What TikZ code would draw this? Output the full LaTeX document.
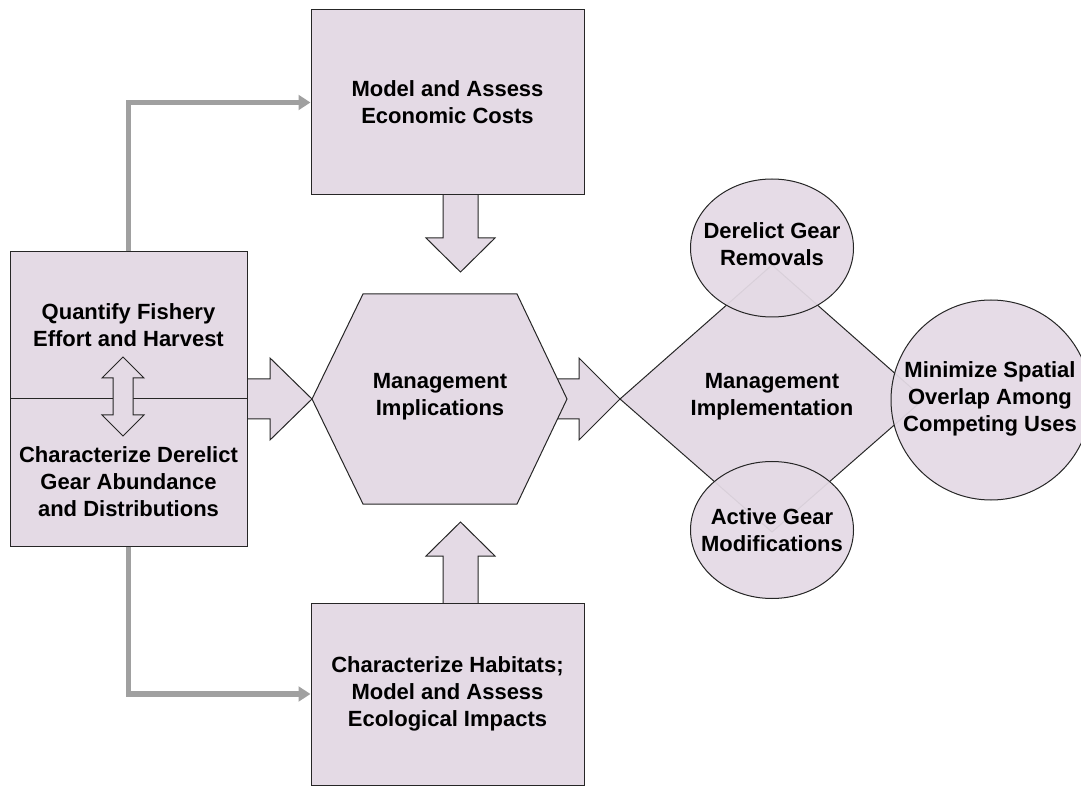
\documentclass[tikz,border=0pt]{standalone}
\usepackage{fontspec}
\setmainfont{Liberation Sans}
\usetikzlibrary{arrows.meta, calc, shapes.geometric}

\definecolor{lila}{RGB}{228,218,229}
\definecolor{sivaveza}{RGB}{160,160,160}

\begin{document}
\begin{tikzpicture}[x=0.75pt, y=-0.75pt,
    box/.style={draw=black!85, line width=0.75pt, fill=lila, inner sep=0pt},
    txt/.style={font=\fontsize{16.5}{20.25}\selectfont\bfseries, align=center},
    fat/.style={draw=black!85, line width=0.75pt, fill=lila, line join=miter},
    krug/.style={ellipse, draw=black!85, line width=0.75pt, fill=lila, fill opacity=0.94, text opacity=1, inner sep=0pt},
    veza/.style={draw=sivaveza, line width=4pt, -{Triangle[length=9pt, width=11pt]}}]
    % Granice slike
    \clip (0,0) rectangle (1081,787);

    % Debele strelice (crtaju se prije oblika)
    \def\shaftA{379} \def\shaftB{419}
    \def\headA{358} \def\headB{440}
    % lijevo -> sestokut
    \draw[fat] (240,\shaftA) -- (270,\shaftA) -- (270,\headA) -- (312,399)
        -- (270,\headB) -- (270,\shaftB) -- (240,\shaftB);
    % sestokut -> romb
    \draw[fat] (540,\shaftA) -- (579,\shaftA) -- (579,\headA) -- (620,399)
        -- (579,\headB) -- (579,\shaftB) -- (540,\shaftB);
    % gore -> sestokut
    \draw[fat] (443,188) -- (443,238) -- (426,238) -- (460.5,272)
        -- (495,238) -- (478,238) -- (478,188);
    % dolje -> sestokut
    \draw[fat] (443,610) -- (443,556) -- (426,556) -- (460.5,522)
        -- (495,556) -- (478,556) -- (478,610);

    % Pravokutnici
    \node[box, txt, minimum width=273*0.75pt, minimum height=185*0.75pt]
        (econ) at (447.5,102.5) {Model and Assess\\Economic Costs};
    \node[box, txt, minimum width=273*0.75pt, minimum height=182*0.75pt]
        (habit) at (447.5,694) {Characterize Habitats;\\Model and Assess\\Ecological Impacts};
    \node[box, txt, minimum width=237*0.75pt, minimum height=147*0.75pt]
        (quant) at (128.5,325.5) {Quantify Fishery\\Effort and Harvest};
    \node[box, minimum width=237*0.75pt, minimum height=147*0.75pt]
        (derel) at (128.5,472.5) {};
    \node[txt] (dereltxt) at (128.5,482) {Characterize Derelict\\Gear Abundance\\and Distributions};

    % Dvostruka strelica u lijevom pravokutniku
    \draw[fat] (123,357) -- (144,378) -- (133,378) -- (133,415) -- (144,415)
        -- (123,436) -- (102,415) -- (113,415) -- (113,378) -- (102,378) -- cycle;

    % Sive veze
    \draw[veza] (quant.north) |- (econ.west);
    \draw[veza] (derel.south) |- (habit.west);

    % Sestokut
    \draw[fat] (363,294) -- (517,294) -- (567,399) -- (517,504) -- (363,504) -- (312,399) -- cycle;
    \node[txt] (impl) at (440,397) {Management\\Implications};

    % Romb
    \draw[fat] (620,399) -- (772,265) -- (924,399) -- (772,532) -- cycle;
    \node[txt] (implem) at (772,397) {Management\\Implementation};

    % Krugovi
    \node[krug, minimum width=163*0.75pt, minimum height=138*0.75pt]
        (remov) at (772,248) {};
    \node[txt] (removtxt) at (772,244) {Derelict Gear\\Removals};
    \node[krug, minimum width=163*0.75pt, minimum height=137*0.75pt]
        (modif) at (772,530) {};
    \node[txt] (modiftxt) at (772,530) {Active Gear\\Modifications};
    \node[krug, minimum width=200*0.75pt, minimum height=200*0.75pt]
        (overlap) at (991,400) {};
    \node[txt] (overlaptxt) at (990,399) {Minimize Spatial\\Overlap Among\\Competing Uses};

\end{tikzpicture}
\end{document}
